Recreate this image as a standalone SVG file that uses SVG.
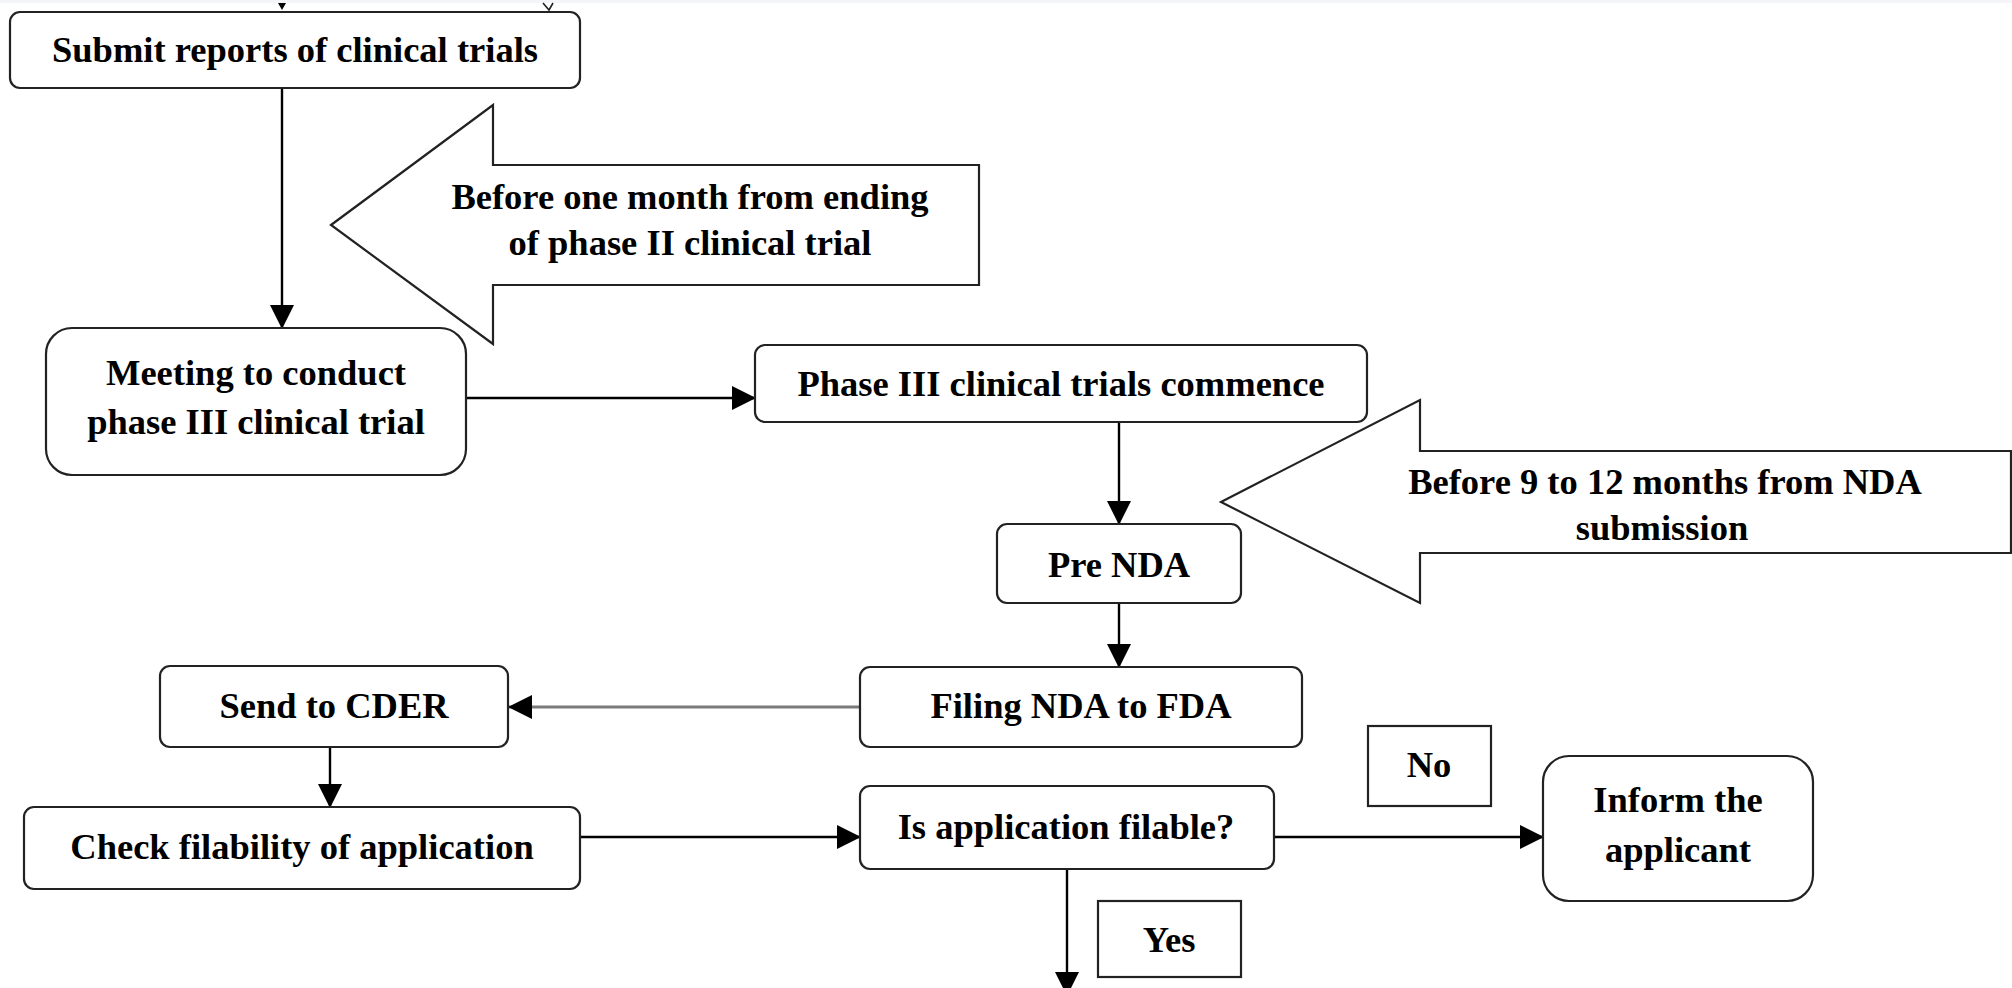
<svg xmlns="http://www.w3.org/2000/svg" width="2012" height="988" viewBox="0 0 2012 988">
  <defs>
    <marker id="arrowhead" markerUnits="userSpaceOnUse" markerWidth="24" markerHeight="24" viewBox="0 0 24 24" refX="23" refY="12" orient="auto">
      <path d="M0,0 L24,12 L0,24 Z" fill="#000"/>
    </marker>
    <style>
      .box { fill: #fff; stroke: #222; stroke-width: 2.2; }
      .label { font-family: "Liberation Serif", "Times New Roman", serif; font-weight: bold; font-size: 36.5px; fill: #000; text-anchor: middle; }
      .link { fill: none; stroke: #000; stroke-width: 2.4; marker-end: url(#arrowhead); }
      .link-grey { fill: none; stroke: #7a7a7a; stroke-width: 3.2; marker-end: url(#arrowhead); }
      .block-arrow { fill: #fff; stroke: #222; stroke-width: 2.2; stroke-linejoin: miter; }
    </style>
  </defs>

  <rect x="0" y="0" width="2012" height="988" fill="#fff"/>
  <!-- thin header band with the tail of the previous page's connectors -->
  <rect x="0" y="0" width="2012" height="3" fill="#f3f5f8"/>
  <path d="M278,3 L286,3 L282,10 Z" fill="#000"/>
  <path d="M543,3 L549,10 L553,3" fill="none" stroke="#222" stroke-width="1.6"/>

  <!-- connectors -->
  <g id="connectors">
    <line class="link" x1="282" y1="88" x2="282" y2="328"/>
    <line class="link" x1="466" y1="398" x2="755" y2="398"/>
    <line class="link" x1="1119" y1="422" x2="1119" y2="524"/>
    <line class="link" x1="1119" y1="603" x2="1119" y2="667"/>
    <line class="link-grey" x1="860" y1="707" x2="509" y2="707"/>
    <line class="link" x1="330" y1="747" x2="330" y2="807"/>
    <line class="link" x1="580" y1="837" x2="860" y2="837"/>
    <line class="link" x1="1274" y1="837" x2="1543" y2="837"/>
    <line class="link" x1="1067" y1="869" x2="1067" y2="995"/>
  </g>

  <!-- timing callouts -->
  <g id="callout-phase2">
    <polygon class="block-arrow" points="331,225 493,105 493,165 979,165 979,285 493,285 493,344"/>
    <text class="label" x="690" y="209">Before one month from ending</text>
    <text class="label" x="690" y="255">of phase II clinical trial</text>
  </g>
  <g id="callout-nda">
    <polygon class="block-arrow" points="1221,502 1420,400 1420,451 2011,451 2011,553 1420,553 1420,603"/>
    <text class="label" x="1665" y="494">Before 9 to 12 months from NDA</text>
    <text class="label" x="1662" y="540">submission</text>
  </g>

  <!-- process steps -->
  <g id="submit-reports">
    <rect class="box" x="10" y="12" width="570" height="76" rx="10"/>
    <text class="label" x="295" y="62">Submit reports of clinical trials</text>
  </g>
  <g id="meeting-phase3">
    <rect class="box" x="46" y="328" width="420" height="147" rx="26"/>
    <text class="label" x="256" y="385">Meeting to conduct</text>
    <text class="label" x="256" y="434">phase III clinical trial</text>
  </g>
  <g id="phase3-commence">
    <rect class="box" x="755" y="345" width="612" height="77" rx="10"/>
    <text class="label" x="1061" y="396">Phase III clinical trials commence</text>
  </g>
  <g id="pre-nda">
    <rect class="box" x="997" y="524" width="244" height="79" rx="10"/>
    <text class="label" x="1119" y="577">Pre NDA</text>
  </g>
  <g id="filing-nda">
    <rect class="box" x="860" y="667" width="442" height="80" rx="10"/>
    <text class="label" x="1081" y="718">Filing NDA to FDA</text>
  </g>
  <g id="send-cder">
    <rect class="box" x="160" y="666" width="348" height="81" rx="10"/>
    <text class="label" x="334" y="718">Send to CDER</text>
  </g>
  <g id="check-filability">
    <rect class="box" x="24" y="807" width="556" height="82" rx="10"/>
    <text class="label" x="302" y="859">Check filability of application</text>
  </g>
  <g id="is-filable">
    <rect class="box" x="860" y="786" width="414" height="83" rx="10"/>
    <text class="label" x="1066" y="839">Is application filable?</text>
  </g>
  <g id="inform-applicant">
    <rect class="box" x="1543" y="756" width="270" height="145" rx="26"/>
    <text class="label" x="1678" y="812">Inform the</text>
    <text class="label" x="1678" y="862">applicant</text>
  </g>
  <g id="label-no">
    <rect class="box" x="1368" y="726" width="123" height="80"/>
    <text class="label" x="1429" y="777">No</text>
  </g>
  <g id="label-yes">
    <rect class="box" x="1098" y="901" width="143" height="76"/>
    <text class="label" x="1169" y="952">Yes</text>
  </g>
</svg>
